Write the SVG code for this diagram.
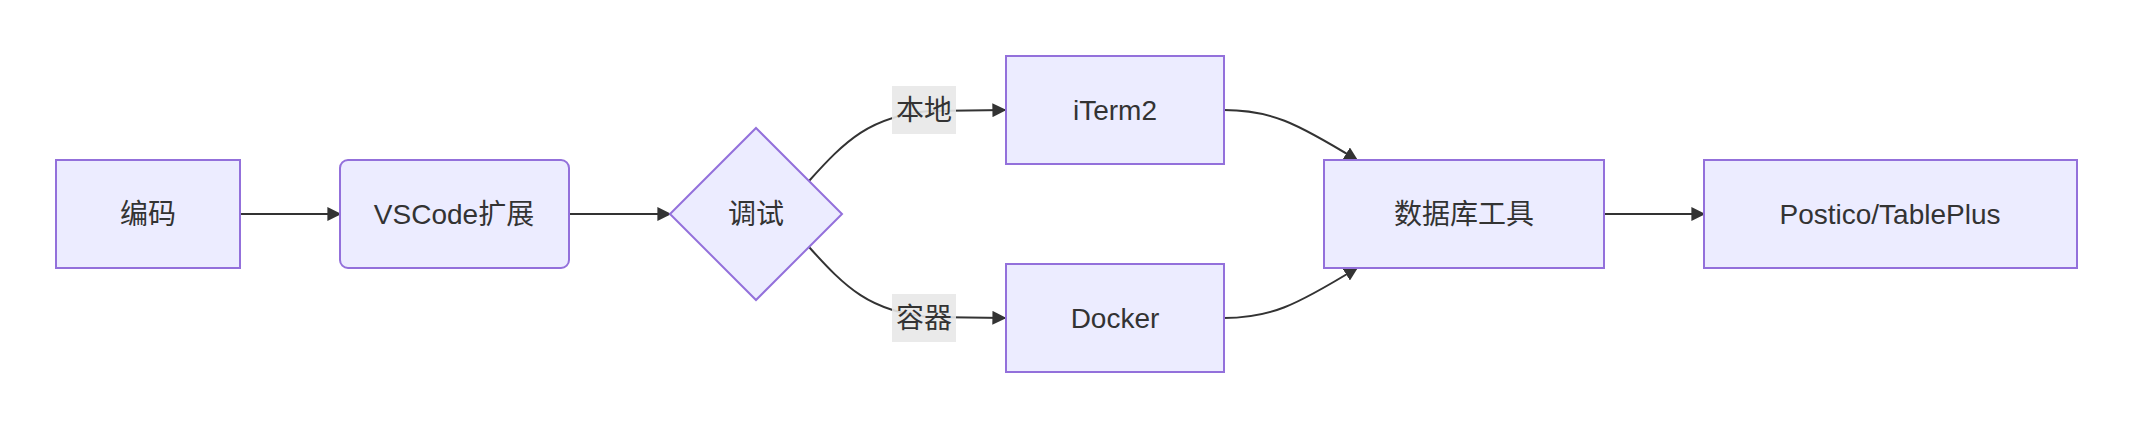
<svg xmlns="http://www.w3.org/2000/svg" width="2132" height="428" viewBox="0 0 2132 428">
<style>
.n{fill:#ECECFF;stroke:#9370DB;stroke-width:2}
.t{font-family:"Liberation Sans","Noto Sans CJK SC",sans-serif;font-size:28px;fill:#333;text-anchor:middle;dominant-baseline:central}
.e{fill:none;stroke:#333;stroke-width:2;marker-end:url(#a)}
.lb{fill:#E8E8E8;opacity:0.9}
</style>
<defs><marker id="a" viewBox="0 0 10 10" refX="9" refY="5" markerWidth="14" markerHeight="14" markerUnits="userSpaceOnUse" orient="auto"><path d="M0,0L10,5L0,10z" fill="#333"/></marker></defs>
<rect width="2132" height="428" fill="#fff"/>
<g id="edges">
<path class="e" d="M240,214L340,214"/>
<path class="e" d="M569,214L670,214"/>
<path class="e" d="M809,181C845,141 870,116 930,111L1005,110"/>
<path class="e" d="M809,247C845,287 870,312 930,317L1005,318"/>
<path class="e" d="M1224,110C1270,110 1295,122 1357,160"/>
<path class="e" d="M1224,318C1270,318 1295,306 1357,268"/>
<path class="e" d="M1604,214L1704,214"/>
</g>
<g id="labels">
<rect class="lb" x="892" y="86" width="64" height="48"/><text class="t" x="924" y="110">本地</text>
<rect class="lb" x="892" y="294" width="64" height="48"/><text class="t" x="924" y="318">容器</text>
</g>
<g id="n1"><rect class="n" x="56" y="160" width="184" height="108"/><text class="t" x="148" y="214">编码</text></g>
<g id="n2"><rect class="n" x="340" y="160" width="229" height="108" rx="8"/><text class="t" x="454" y="214">VSCode扩展</text></g>
<g id="n3"><polygon class="n" points="756,128 842,214 756,300 670,214"/><text class="t" x="756" y="214">调试</text></g>
<g id="n4"><rect class="n" x="1006" y="56" width="218" height="108"/><text class="t" x="1115" y="110">iTerm2</text></g>
<g id="n5"><rect class="n" x="1006" y="264" width="218" height="108"/><text class="t" x="1115" y="318">Docker</text></g>
<g id="n6"><rect class="n" x="1324" y="160" width="280" height="108"/><text class="t" x="1464" y="214">数据库工具</text></g>
<g id="n7"><rect class="n" x="1704" y="160" width="373" height="108"/><text class="t" x="1890" y="214">Postico/TablePlus</text></g>
</svg>
